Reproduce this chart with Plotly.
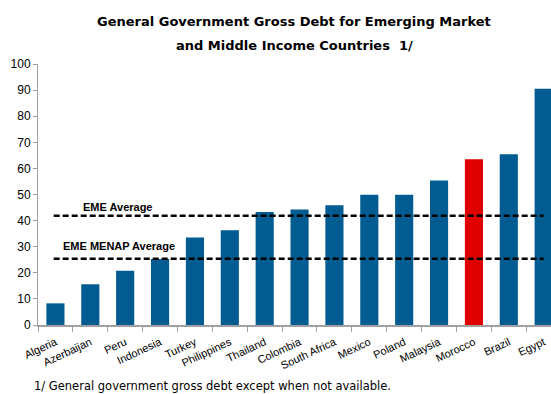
import plotly.graph_objects as go

# General government gross debt, percent of GDP
countries = ["Algeria", "Azerbaijan", "Peru", "Indonesia", "Turkey", "Philippines",
             "Thailand", "Colombia", "South Africa", "Mexico", "Poland", "Malaysia",
             "Morocco", "Brazil", "Egypt"]
debt = [8.3, 15.6, 20.8, 25.3, 33.5, 36.3, 43.3, 44.3, 45.9, 49.9, 49.9, 55.4, 63.5, 65.4, 90.5]
highlight = "Morocco"

eme_average = 41.9
eme_menap_average = 25.4

y_ticks = list(range(0, 101, 10))

title_lines = ["General Government Gross Debt for Emerging Market",
               "and Middle Income Countries  1/"]
footnote = "1/ General government gross debt except when not available."

BLUE = "#025C91"
RED = "#E00000"
bar_colors = [RED if c == highlight else BLUE for c in countries]

fig = go.Figure()
fig.add_trace(go.Bar(
    x=countries, y=debt,
    marker=dict(color=bar_colors, line=dict(width=0)),
    width=0.52,
    showlegend=False,
    hoverinfo="x+y",
))

# Dashed reference lines for the group averages, drawn over the bars
for level in (eme_average, eme_menap_average):
    fig.add_shape(type="line", xref="x", yref="y", layer="above",
                  x0=-0.05, x1=14.0, y0=level, y1=level,
                  line=dict(color="black", width=2.5, dash="6px,3px"))

label_font = dict(family="Liberation Sans, Arial", size=11, color="black")
fig.add_annotation(x=0.72, y=eme_average + 3.4, xref="x", yref="y",
                   text="<b>EME Average</b>", showarrow=False,
                   xanchor="left", yanchor="middle", font=label_font)
fig.add_annotation(x=0.15, y=eme_menap_average + 5.0, xref="x", yref="y",
                   text="<b>EME MENAP Average</b>", showarrow=False,
                   xanchor="left", yanchor="middle", font=label_font)

# Two-line title set as separate annotations for wider line spacing
title_font = dict(family="DejaVu Sans", size=13, color="black")
plot_top, plot_h, plot_left, plot_w = 64, 261, 38, 513
for line, cy in zip(title_lines, (22, 45)):
    fig.add_annotation(x=(294 - plot_left) / plot_w, y=1 + (plot_top - cy) / plot_h,
                       xref="paper", yref="paper", text=f"<b>{line}</b>",
                       showarrow=False, xanchor="center", yanchor="middle",
                       font=title_font)

fig.add_annotation(x=-0.012, y=-0.232, xref="paper", yref="paper",
                   text=footnote, showarrow=False, xanchor="left", yanchor="middle",
                   font=dict(family="DejaVu Sans", size=11.5, color="black"))

fig.update_layout(
    width=551, height=394,
    margin=dict(l=38, r=0, t=64, b=69),
    paper_bgcolor="white", plot_bgcolor="white",
    bargap=0.48,
    xaxis=dict(
        range=[-0.5, 14.21],
        showline=True, linecolor="#A0A0A0", linewidth=1.5,
        ticks="outside", tickson="boundaries", ticklen=5, tickcolor="#A0A0A0",
        tickangle=-25, ticklabelstandoff=5,
        tickfont=dict(family="Liberation Sans, Arial", size=11, color="black"),
        showgrid=False, fixedrange=True,
    ),
    yaxis=dict(
        range=[0, 100], tickvals=y_ticks,
        showline=True, linecolor="#A0A0A0", linewidth=1,
        ticks="outside", ticklen=4, tickcolor="#A0A0A0",
        tickfont=dict(family="Liberation Sans, Arial", size=12, color="black"),
        showgrid=False, zeroline=False, fixedrange=True,
    ),
)

fig.write_html("out.html")
